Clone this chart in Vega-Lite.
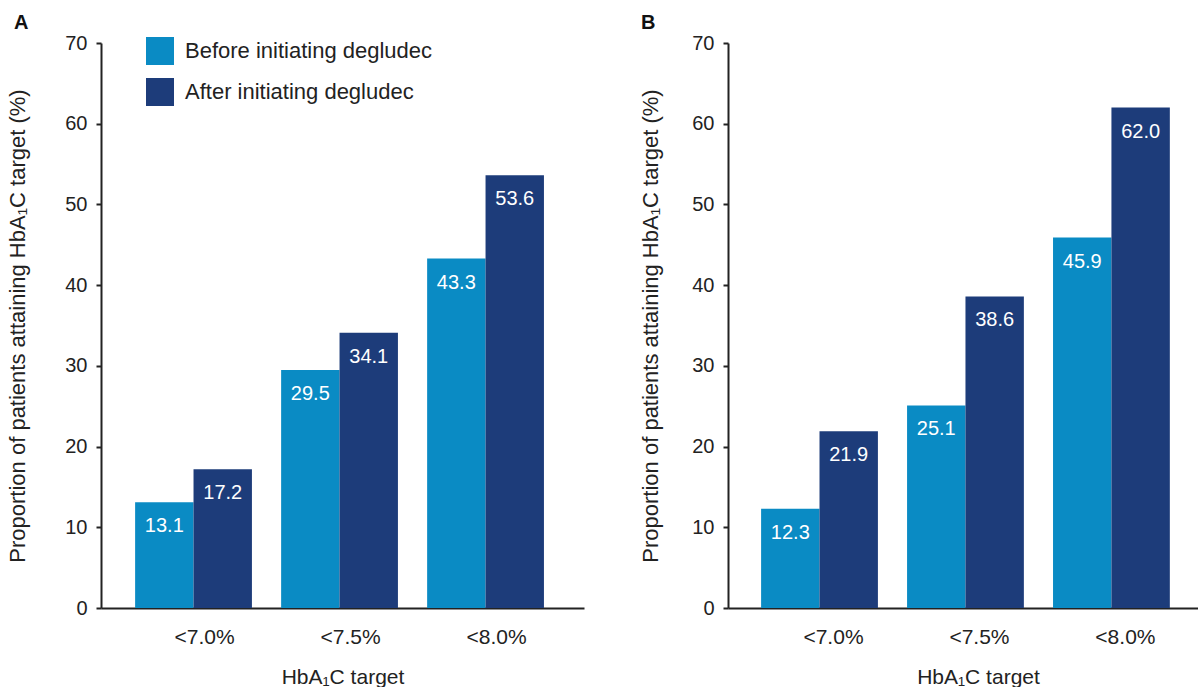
{
  "$schema": "https://vega.github.io/schema/vega-lite/v6.json",
  "background": "white",
  "padding": {"left": 6, "top": 13, "right": 0, "bottom": 0},
  "config": {
    "font": "Liberation Sans",
    "view": {"stroke": null},
    "axis": {"grid": false, "labelColor": "#222222", "titleColor": "#222222", "domainColor": "#222222", "tickColor": "#222222", "domainWidth": 2, "tickWidth": 2, "labelFontSize": 20, "titleFontSize": 21, "titleFontWeight": "normal"},
    "title": {"fontSize": 20, "fontWeight": "bold", "color": "#111111"}
  },
  "datasets": {
    "A": [
      {"target": "<7.0%", "period": "Before initiating degludec", "value": 13.1},
      {"target": "<7.0%", "period": "After initiating degludec", "value": 17.2},
      {"target": "<7.5%", "period": "Before initiating degludec", "value": 29.5},
      {"target": "<7.5%", "period": "After initiating degludec", "value": 34.1},
      {"target": "<8.0%", "period": "Before initiating degludec", "value": 43.3},
      {"target": "<8.0%", "period": "After initiating degludec", "value": 53.6}
    ],
    "B": [
      {"target": "<7.0%", "period": "Before initiating degludec", "value": 12.3},
      {"target": "<7.0%", "period": "After initiating degludec", "value": 21.9},
      {"target": "<7.5%", "period": "Before initiating degludec", "value": 25.1},
      {"target": "<7.5%", "period": "After initiating degludec", "value": 38.6},
      {"target": "<8.0%", "period": "Before initiating degludec", "value": 45.9},
      {"target": "<8.0%", "period": "After initiating degludec", "value": 62.0}
    ]
  },
  "spacing": 55,
  "resolve": {"scale": {"color": "independent"}},
  "hconcat": [
    {
      "width": 483,
      "height": 565,
      "data": {"name": "A"},
      "title": {"text": "A", "anchor": "start", "frame": "group", "dx": -87, "offset": 0},
      "encoding": {
        "x": {"field": "target", "type": "nominal", "sort": ["<7.0%", "<7.5%", "<8.0%"], "scale": {"paddingInner": 0.2, "paddingOuter": 0.254, "align": 0.46},
          "axis": {"ticks": false, "labelAngle": 0, "labelPadding": 18, "labelFontSize": 21, "labelOffset": 11, "titlePadding": 19}, "title": "HbA₁C target"},
        "xOffset": {"field": "period", "sort": ["Before initiating degludec", "After initiating degludec"]},
        "y": {"field": "value", "type": "quantitative", "scale": {"domain": [0, 70]},
          "axis": {"values": [0, 10, 20, 30, 40, 50, 60, 70], "tickSize": 5, "labelPadding": 9, "titlePadding": 35, "titleFontSize": 22}, "title": "Proportion of patients attaining  HbA₁C target (%)"}
      },
      "layer": [
        {"mark": {"type": "bar"},
          "encoding": {"color": {"field": "period", "type": "nominal", "sort": ["Before initiating degludec", "After initiating degludec"],
            "scale": {"domain": ["Before initiating degludec", "After initiating degludec"], "range": ["#0a8bc4", "#1d3c7a"]},
            "legend": {"orient": "none", "legendX": 45, "legendY": -6, "title": null, "symbolType": "square", "symbolSize": 784, "symbolStrokeWidth": 0, "symbolOpacity": 1, "labelFontSize": 22, "labelLimit": 400, "labelColor": "#222222", "rowPadding": 13, "labelOffset": 11}}}},
        {"mark": {"type": "text", "color": "white", "dy": 24, "fontSize": 20, "baseline": "middle"},
          "encoding": {"text": {"field": "value", "type": "quantitative", "format": ".1f"}}}
      ]
    },
    {
      "width": 470,
      "height": 565,
      "data": {"name": "B"},
      "title": {"text": "B", "anchor": "start", "frame": "group", "dx": -87, "offset": 0},
      "encoding": {
        "x": {"field": "target", "type": "nominal", "sort": ["<7.0%", "<7.5%", "<8.0%"], "scale": {"paddingInner": 0.2, "paddingOuter": 0.21, "align": 0.54},
          "axis": {"ticks": false, "labelAngle": 0, "labelPadding": 18, "labelFontSize": 21, "labelOffset": 14, "titlePadding": 19, "titleX": 250}, "title": "HbA₁C target"},
        "xOffset": {"field": "period", "sort": ["Before initiating degludec", "After initiating degludec"]},
        "y": {"field": "value", "type": "quantitative", "scale": {"domain": [0, 70]},
          "axis": {"values": [0, 10, 20, 30, 40, 50, 60, 70], "tickSize": 5, "labelPadding": 9, "titlePadding": 29, "titleFontSize": 22}, "title": "Proportion of patients attaining  HbA₁C target (%)"}
      },
      "layer": [
        {"mark": {"type": "bar"},
          "encoding": {"color": {"field": "period", "type": "nominal", "sort": ["Before initiating degludec", "After initiating degludec"],
            "scale": {"domain": ["Before initiating degludec", "After initiating degludec"], "range": ["#0a8bc4", "#1d3c7a"]},
            "legend": null}}},
        {"mark": {"type": "text", "color": "white", "dy": 24, "fontSize": 20, "baseline": "middle"},
          "encoding": {"text": {"field": "value", "type": "quantitative", "format": ".1f"}}}
      ]
    }
  ]
}
